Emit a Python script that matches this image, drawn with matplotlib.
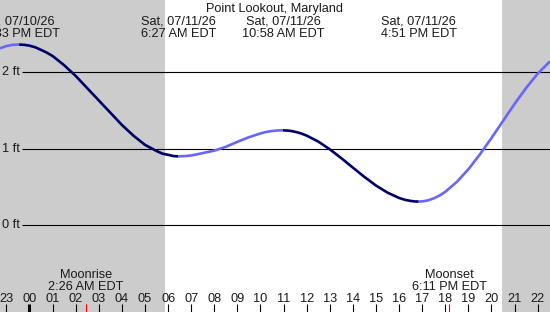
"""Tide chart for Point Lookout, Maryland (07/11/26)."""

import matplotlib

matplotlib.use("Agg")
import matplotlib.pyplot as plt


# Hours relative to midnight 07/11/26, and water level (ft).
HOURS = [
    -1.28, -1.0, -0.75, -0.45, -0.2, 0.0, 0.25, 0.5, 0.75, 1.0, 1.5, 2.0,
    2.5, 3.0, 3.5, 4.0, 4.5, 5.0, 5.5, 5.75, 6.0, 6.25, 6.45, 6.75, 7.0,
    7.25, 7.5, 8.0, 8.5, 9.0, 9.5, 10.0, 10.25, 10.5, 10.75, 10.97, 11.25,
    11.5, 11.75, 12.0, 12.5, 13.0, 13.5, 14.0, 14.5, 15.0, 15.5, 16.0, 16.25,
    16.5, 16.7, 16.85, 17.0, 17.25, 17.5, 17.75, 18.0, 18.5, 19.0, 19.5,
    20.0, 20.5, 21.0, 21.5, 22.0, 22.53,
]
LEVEL_FT = [
    2.31, 2.34, 2.355, 2.36, 2.355, 2.345, 2.324, 2.29, 2.254, 2.21, 2.09, 1.95,
    1.79, 1.63, 1.47, 1.31, 1.17, 1.05, 0.97, 0.936, 0.92, 0.903, 0.90, 0.904, 0.912,
    0.926, 0.943, 0.975, 1.025, 1.09, 1.15, 1.20, 1.219, 1.231, 1.238, 1.24, 1.235,
    1.221, 1.20, 1.171, 1.093, 0.992, 0.876, 0.753, 0.631, 0.519, 0.426, 0.357, 0.333,
    0.318, 0.311, 0.31, 0.312, 0.325, 0.352, 0.389, 0.437, 0.567, 0.732, 0.927,
    1.14, 1.363, 1.585, 1.794, 1.98, 2.14,
]

# High / low tide events shown across the top.
EVENT_HOURS = [-0.45, 6.45, 10.97, 16.85]
EVENT_DATES = ["Fri, 07/10/26", "Sat, 07/11/26", "Sat, 07/11/26", "Sat, 07/11/26"]
EVENT_TIMES = ["11:33 PM EDT", "6:27 AM EDT", "10:58 AM EDT", "4:51 PM EDT"]

# Moon events along the bottom.
MOON_HOURS = [2.43, 18.18]
MOON_NAMES = ["Moonrise", "Moonset"]
MOON_TIMES = ["2:26 AM EDT", "6:11 PM EDT"]

SUNRISE_HOUR = 5.87
SUNSET_HOUR = 20.45
HOUR_TICKS = list(range(-1, 23))
LEVEL_LINES = [0, 1, 2]

TITLE = "Point Lookout, Maryland"

NIGHT = "#cccccc"
FALLING = "#000066"
RISING = "#6666ff"
TEXT = "#1a1a1a"
FONT = 9.2

W, H = 550, 312


def frac_y(px: float) -> float:
    """Pixel row measured from the top -> axes fraction."""
    return 1.0 - px / H


def draw_curve(ax: plt.Axes) -> None:
    # split the curve into rising and falling runs
    runs = []
    start = 0
    for i in range(1, len(HOURS) - 1):
        up_before = LEVEL_FT[i] > LEVEL_FT[i - 1]
        up_after = LEVEL_FT[i + 1] > LEVEL_FT[i]
        if up_before != up_after:
            runs.append((start, i))
            start = i
    runs.append((start, len(HOURS) - 1))

    for a, b in runs:
        color = RISING if LEVEL_FT[b] > LEVEL_FT[a] else FALLING
        ax.plot(
            HOURS[a:b + 1],
            LEVEL_FT[a:b + 1],
            color=color,
            linewidth=1.9,
            solid_capstyle="butt",
            solid_joinstyle="round",
            zorder=3,
        )


def main() -> None:
    plt.rcParams["font.family"] = ["Liberation Sans", "DejaVu Sans"]
    fig = plt.figure(figsize=(W / 100, H / 100), dpi=100)
    ax = fig.add_axes([0, 0, 1, 1])

    px_per_hour = 23.1
    x0_px = 29.5
    px_per_ft = 76.6
    y0_px = 225.3
    ax.set_xlim(-x0_px / px_per_hour, (W - x0_px) / px_per_hour)
    ax.set_ylim(-(H - y0_px) / px_per_ft, y0_px / px_per_ft)
    ax.axis("off")

    xlo, xhi = ax.get_xlim()
    ax.axvspan(xlo, SUNRISE_HOUR, color=NIGHT, lw=0, zorder=0)
    ax.axvspan(SUNSET_HOUR, xhi, color=NIGHT, lw=0, zorder=0)

    line_start = xlo + 22 / px_per_hour
    for lvl in LEVEL_LINES:
        ax.hlines(lvl, line_start, xhi, color="black", linewidth=0.8, zorder=2)
        ax.text(line_start - 2 / px_per_hour, lvl, f"{lvl} ft", fontsize=FONT,
                ha="right", va="center", color=TEXT)

    draw_curve(ax)

    tx = ax.get_xaxis_transform()
    ax.text(0.5 * (xlo + xhi), frac_y(12), TITLE, transform=tx, fontsize=FONT,
            ha="center", va="baseline", color=TEXT)
    for hr, day, tm in zip(EVENT_HOURS, EVENT_DATES, EVENT_TIMES):
        ax.text(hr, frac_y(25), day, transform=tx, fontsize=FONT,
                ha="center", va="baseline", color=TEXT)
        ax.text(hr, frac_y(37), tm, transform=tx, fontsize=FONT,
                ha="center", va="baseline", color=TEXT)

    # hour ticks and labels
    for hr in HOUR_TICKS:
        ax.vlines(hr, 0, frac_y(303.5), transform=tx, color="black",
                  linewidth=2.2 if hr == 0 else 0.8, zorder=2)
        ax.text(hr, frac_y(302.5), f"{hr % 24:02d}", transform=tx,
                fontsize=FONT, ha="center", va="baseline", color=TEXT)

    for hr, name, tm in zip(MOON_HOURS, MOON_NAMES, MOON_TIMES):
        ax.vlines(hr, 0, frac_y(303.5), transform=tx, color="red",
                  linewidth=0.8, zorder=2)
        ax.text(hr, frac_y(278.5), name, transform=tx, fontsize=FONT,
                ha="center", va="baseline", color=TEXT)
        ax.text(hr, frac_y(289.5), tm, transform=tx, fontsize=FONT,
                ha="center", va="baseline", color=TEXT)

    fig.savefig("out.png", dpi=100)
    plt.close(fig)


if __name__ == "__main__":
    main()
